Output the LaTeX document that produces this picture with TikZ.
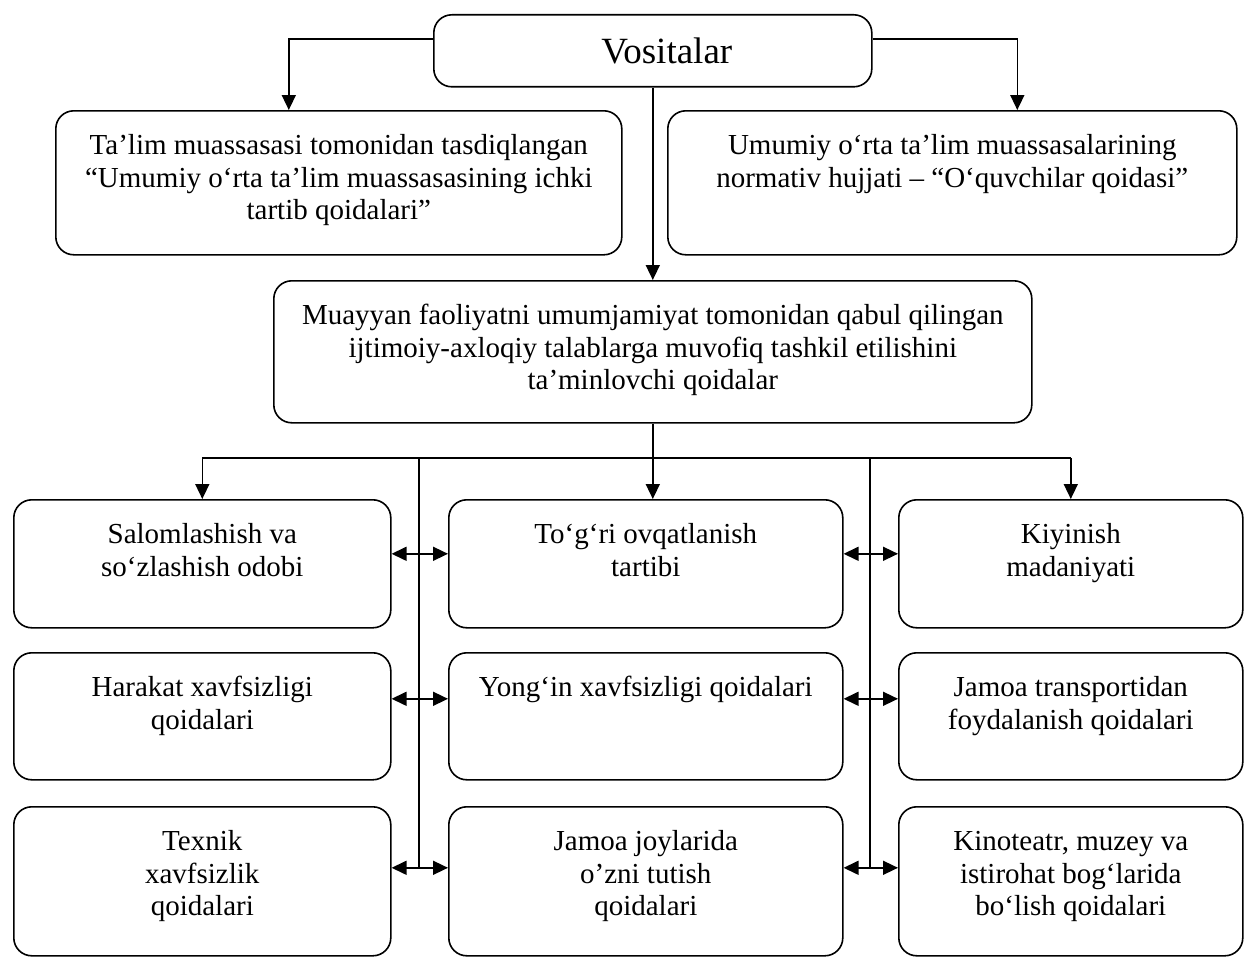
\documentclass[tikz,border=0pt]{standalone}
\usepackage{fontspec}
\setmainfont{Liberation Serif}
\usetikzlibrary{arrows.meta}
\newcommand{\boxtxt}[3]{\parbox[c][#2][t]{#1}{\centering\vspace*{21pt}\rule{0pt}{23pt}#3\par}}

\begin{document}
\begin{tikzpicture}[x=1pt,y=-1pt,line width=1.6pt,
    box/.style={draw,rounded corners=18pt,inner sep=0pt,anchor=north west,
        font=\fontsize{29}{32.5}\selectfont},
    arr/.style={-{Triangle[length=15pt,width=14pt]}},
    dbl/.style={{Triangle[length=15pt,width=14pt]}-{Triangle[length=15pt,width=14pt]}}]
    \useasboundingbox (0,0) rectangle (1256,958);
    %top of the scheme
    \node[box,minimum width=438pt,minimum height=72pt,font=\fontsize{37}{40}\selectfont] (vos) at (433,14) {\hspace*{28pt}Vositalar};
    \node[box] (talim) at (55,110) {\boxtxt{566pt}{144pt}{Ta’lim muassasasi tomonidan tasdiqlangan\\ “Umumiy o‘rta ta’lim muassasasining ichki\\ tartib qoidalari”}};
    \node[box] (norm) at (667,110) {\boxtxt{569pt}{144pt}{Umumiy o‘rta ta’lim muassasalarining\\ normativ hujjati – “O‘quvchilar qoidasi”}};
    \node[box] (faol) at (273,280) {\boxtxt{758pt}{142pt}{Muayyan faoliyatni umumjamiyat tomonidan qabul qilingan\\ ijtimoiy-axloqiy talablarga muvofiq tashkil etilishini\\ ta’minlovchi qoidalar}};
    %three rows of rules
    \node[box] (b11) at (13,499) {\boxtxt{377pt}{128pt}{Salomlashish va\\ so‘zlashish odobi}};
    \node[box] (b12) at (448,499) {\boxtxt{394pt}{128pt}{To‘g‘ri ovqatlanish\\ tartibi}};
    \node[box] (b13) at (898,499) {\boxtxt{344pt}{128pt}{Kiyinish\\ madaniyati}};
    \node[box] (b21) at (13,652) {\boxtxt{377pt}{127pt}{Harakat xavfsizligi\\ qoidalari}};
    \node[box] (b22) at (448,652) {\boxtxt{394pt}{127pt}{Yong‘in xavfsizligi qoidalari}};
    \node[box] (b23) at (898,652) {\boxtxt{344pt}{127pt}{Jamoa transportidan\\ foydalanish qoidalari}};
    \node[box] (b31) at (13,806) {\boxtxt{377pt}{149pt}{Texnik\\ xavfsizlik\\ qoidalari}};
    \node[box] (b32) at (448,806) {\boxtxt{394pt}{149pt}{Jamoa joylarida\\ o’zni tutish\\ qoidalari}};
    \node[box] (b33) at (898,806) {\boxtxt{344pt}{149pt}{Kinoteatr, muzey va\\ istirohat bog‘larida\\ bo‘lish qoidalari}};
    %connectors
    \draw[arr] ([yshift=12pt]vos.west) -| ([xshift=-50pt]talim.north);
    \draw[arr] ([yshift=12pt]vos.east) -| ([xshift=65pt]norm.north);
    \draw[arr] (vos.south) -- (vos.south |- faol.north);
    \coordinate (bus) at (652,458);
    \draw[arr] (faol.south) -- (faol.south |- b12.north);
    \draw (bus -| b11.north) -- (bus -| b13.north);
    \draw[arr] (bus -| b11.north) -- (b11.north);
    \draw[arr] (bus -| b13.north) -- (b13.north);
    \coordinate (t1) at (419,458);
    \coordinate (t2) at (870,458);
    \draw (t1) -- (419,867);
    \draw (t2) -- (870,867);
    \draw[dbl] ([yshift=10pt]b11.east) -- ([yshift=10pt]b12.west);
    \draw[dbl] ([yshift=10pt]b12.east) -- ([yshift=10pt]b13.west);
    \draw[dbl] ([yshift=17.5pt]b21.east) -- ([yshift=17.5pt]b22.west);
    \draw[dbl] ([yshift=17.5pt]b22.east) -- ([yshift=17.5pt]b23.west);
    \draw[dbl] ([yshift=13.5pt]b31.east) -- ([yshift=13.5pt]b32.west);
    \draw[dbl] ([yshift=13.5pt]b32.east) -- ([yshift=13.5pt]b33.west);
\end{tikzpicture}
\end{document}
